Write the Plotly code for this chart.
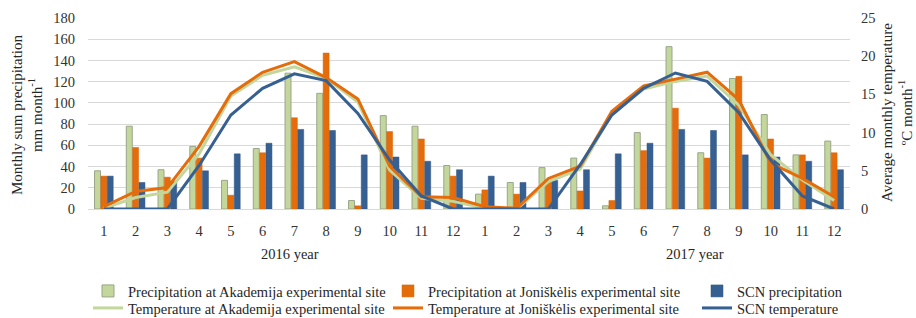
import plotly.graph_objects as go

months = [str(m) for m in range(1, 13)] * 2
x_idx = list(range(24))

prec_akademija = [36, 78, 37, 59, 27, 57, 128, 109, 8, 88, 78, 41,
                  14, 25, 39, 48, 3, 72, 153, 53, 123, 89, 51, 64]
prec_joniskelis = [31, 58, 30, 48, 13, 53, 86, 147, 3, 73, 66, 31,
                   18, 14, 26, 17, 8, 55, 95, 48, 125, 66, 51, 53]
prec_scn = [31, 25, 26, 36, 52, 62, 75, 74, 51, 49, 45, 37,
            31, 25, 27, 37, 52, 62, 75, 74, 51, 49, 45, 37]

temp_akademija = [0.1, 1.5, 2.2, 7.2, 14.8, 17.5, 18.6, 17.1, 14.0, 5.1, 1.4, 1.0,
                  0.1, 0.0, 3.6, 5.2, 12.5, 15.7, 16.7, 17.4, 13.6, 7.1, 3.8, 1.1]
temp_joniskelis = [0.3, 2.3, 2.8, 8.2, 15.1, 17.9, 19.3, 17.2, 14.4, 5.6, 1.6, 1.5,
                   0.3, 0.1, 4.0, 5.6, 12.8, 16.1, 17.0, 17.9, 14.3, 6.0, 4.0, 1.6]
temp_scn = [0.0, 0.0, 0.0, 5.7, 12.3, 15.8, 17.7, 16.8, 12.5, 6.4, 1.7, 0.0,
            0.0, 0.0, 0.0, 5.8, 12.3, 15.8, 17.8, 16.7, 12.6, 6.4, 1.7, 0.0]

year_labels = ["2016 year", "2017 year"]

GREEN = "#c3d69b"
ORANGE = "#e46c0a"
BLUE = "#376092"
FONT = "Liberation Serif, Times New Roman, serif"
TXT = "#262626"

W, H = 916, 318
L, R, T, B = 88, 66, 18, 109
pw, ph = W - L - R, H - T - B

def px_x(px):
    return (px - L) / pw

def px_y(py):
    return (H - B - py) / ph

fig = go.Figure()
fig.add_trace(go.Bar(x=x_idx, y=prec_akademija, name="Precipitation at Akademija experimental site",
                     marker=dict(color=GREEN, line=dict(color="#9aa58a", width=1)), legend="legend"))
fig.add_trace(go.Bar(x=x_idx, y=prec_joniskelis, name="Precipitation at Joniškėlis experimental site",
                     marker=dict(color=ORANGE, line=dict(color="#d8650a", width=0.5)), legend="legend2"))
fig.add_trace(go.Bar(x=x_idx, y=prec_scn, name="SCN precipitation",
                     marker=dict(color=BLUE, line=dict(color="#2f5581", width=0.5)), legend="legend3"))
fig.add_trace(go.Scatter(x=x_idx, y=temp_akademija, name="Temperature at Akademija experimental site",
                         mode="lines", line=dict(color=GREEN, width=3), yaxis="y2", legend="legend4"))
fig.add_trace(go.Scatter(x=x_idx, y=temp_joniskelis, name="Temperature at Joniškėlis experimental site",
                         mode="lines", line=dict(color=ORANGE, width=3), yaxis="y2", legend="legend5"))
fig.add_trace(go.Scatter(x=x_idx, y=temp_scn, name="SCN temperature",
                         mode="lines", line=dict(color=BLUE, width=3), yaxis="y2", legend="legend6"))

tick_font = dict(family=FONT, size=14.5, color="#333333")
legend_common = dict(font=dict(family=FONT, size=14.5, color=TXT), bgcolor="rgba(0,0,0,0)",
                     xanchor="left", yanchor="middle", itemwidth=30)

col_text = [128, 428, 737]
row_y = [291, 308]
legends = {}
k = 0
for r in range(2):
    for c in range(3):
        key = "legend" if k == 0 else f"legend{k + 1}"
        legends[key] = dict(x=px_x(col_text[c] - 40), y=px_y(row_y[r]), **legend_common)
        k += 1

title_font = dict(family=FONT, size=15, color=TXT)

fig.update_layout(
    width=W, height=H,
    margin=dict(l=L, r=R, t=T, b=B, autoexpand=False),
    paper_bgcolor="white", plot_bgcolor="white",
    showlegend=True,
    barmode="group", bargap=0.4, bargroupgap=0.06,
    font=dict(family=FONT, color=TXT),
    xaxis=dict(tickmode="array", tickvals=x_idx, ticktext=months, range=[-0.5, 23.5],
               showgrid=False, showline=True, linecolor="#d9d9d9", linewidth=1,
               ticks="", tickfont=tick_font, zeroline=False, automargin=False,
               ticklabelstandoff=9),
    yaxis=dict(range=[0, 180], dtick=20, showgrid=True, gridcolor="#d9d9d9", gridwidth=1,
               zeroline=False, showline=False, tickfont=tick_font, ticks="",
               automargin=False, ticklabelstandoff=12),
    yaxis2=dict(range=[0, 25], dtick=5, overlaying="y", side="right", showgrid=False,
                zeroline=False, showline=False, tickfont=tick_font, ticks="",
                automargin=False, ticklabelstandoff=10),
    annotations=[
        dict(text=year_labels[0], x=px_x(290), y=px_y(254), xref="paper", yref="paper",
             showarrow=False, xanchor="center", yanchor="middle",
             font=dict(family=FONT, size=14.5, color=TXT)),
        dict(text=year_labels[1], x=px_x(695), y=px_y(254), xref="paper", yref="paper",
             showarrow=False, xanchor="center", yanchor="middle",
             font=dict(family=FONT, size=14.5, color=TXT)),
        dict(text="Monthly sum precipitation<br>mm month<sup>-1</sup>", textangle=-90,
             x=px_x(27), y=px_y(115), xref="paper", yref="paper", showarrow=False,
             font=title_font, xanchor="center", yanchor="middle"),
        dict(text="Average monthly temperature<br>ºC month<sup>-1</sup>", textangle=-90,
             x=px_x(897), y=px_y(113), xref="paper", yref="paper", showarrow=False,
             font=title_font, xanchor="center", yanchor="middle"),
    ],
    **legends,
)

fig.write_html("out.html", config={"displayModeBar": False},
               post_script="document.body.style.margin='0';")
